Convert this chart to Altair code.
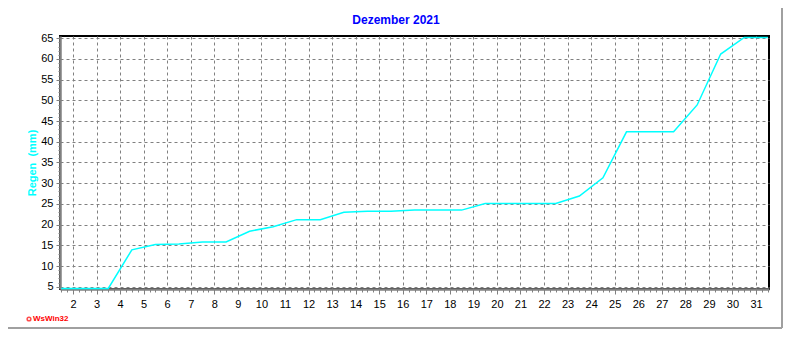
import altair as alt
import pandas as pd

# Cumulative rain (mm), vertices at day boundaries
days = [1.5, 2.5, 3.5, 4.5, 5.5, 6.5, 7.5, 8.5, 9.5, 10.5, 11.5, 12.5, 13.5, 14.5, 15.5,
        16.5, 17.5, 18.5, 19.5, 20.5, 21.5, 22.5, 23.5, 24.5, 25.5, 26.5, 27.5, 28.5,
        29.5, 30.5, 31.5]
rain = [4.6, 4.6, 4.6, 13.9, 15.2, 15.3, 15.8, 15.8, 18.4, 19.5, 21.2, 21.2, 23.0, 23.2, 23.2,
        23.5, 23.5, 23.5, 25.1, 25.1, 25.1, 25.1, 26.9, 31.3, 42.4, 42.4, 42.4, 48.9,
        61.2, 65.2, 65.2]

x_major = list(range(2, 32))
y_major = list(range(5, 70, 5))
x_minor = [1.5 + 0.25 * i for i in range(121)]
y_minor = list(range(5, 66))

title_text = "Dezember 2021"
y_title = "Regen\u00a0 (mm)"
logo_text = "WsWin32"

df = pd.DataFrame({"day": days, "rain": rain})

W, H = 709, 253
FONT = "Liberation Sans"

xscale = alt.Scale(domain=[1.45, 31.55], nice=False, zero=False)
yscale = alt.Scale(domain=[4.45, 65.55], nice=False, zero=False)

minor = alt.Chart(df).mark_line(opacity=0).encode(
    x=alt.X("day:Q", scale=xscale,
            axis=alt.Axis(values=x_minor, labels=False, grid=False, domain=False,
                          tickSize=3, tickColor="#808080", orient="bottom", title=None)),
    y=alt.Y("rain:Q", scale=yscale,
            axis=alt.Axis(values=y_minor, labels=False, grid=False, domain=False,
                          tickSize=2, tickColor="#808080", orient="left", title=None)),
)

main = alt.Chart(df).mark_line(color="#00FFFF", strokeWidth=1.5).encode(
    x=alt.X("day:Q", scale=xscale,
            axis=alt.Axis(values=x_major, grid=True, gridColor="#808080", gridDash=[3, 3],
                          gridWidth=1, domain=True, domainColor="#808080", domainWidth=2.5,
                          tickSize=5, tickColor="#808080", labelColor="black",
                          labelFont=FONT, labelFontSize=11, labelPadding=4,
                          orient="bottom", title=None, labelFlush=False)),
    y=alt.Y("rain:Q", scale=yscale,
            axis=alt.Axis(values=y_major, grid=True, gridColor="#808080", gridDash=[3, 3],
                          gridWidth=1, domain=True, domainColor="#808080", domainWidth=2.5,
                          tickSize=4, tickColor="#808080", labelColor="black",
                          labelFont=FONT, labelFontSize=11, labelPadding=3,
                          orient="left", title=y_title, titleColor="#00FFFF",
                          titleFont=FONT, titleFontSize=11, titleFontWeight="bold",
                          titleAngle=-90, titleX=-28, titleY=H / 2,
                          titleAlign="center", titleBaseline="middle", labelFlush=False)),
)

one = pd.DataFrame({"a": [0]})
frame_r = alt.Chart(one).mark_rule(color="#a0a0a0", strokeWidth=2).encode(
    x=alt.value(722), y=alt.value(-28), y2=alt.value(292))
frame_b = alt.Chart(one).mark_rule(color="#a0a0a0", strokeWidth=2).encode(
    x=alt.value(-52), x2=alt.value(722), y=alt.value(292))
logo_dot = alt.Chart(one).mark_point(color="red", filled=False, size=14, strokeWidth=1.5).encode(
    x=alt.value(-31), y=alt.value(283))
logo = alt.Chart(one).mark_text(color="red", font=FONT, fontSize=8, fontWeight="bold",
                                align="left", baseline="middle", text=logo_text).encode(
    x=alt.value(-27), y=alt.value(283))
title = alt.Chart(one).mark_text(color="#0000FF", font=FONT, fontSize=12, fontWeight="bold",
                                 align="center", baseline="middle", text=title_text).encode(
    x=alt.value(336), y=alt.value(-16))

chart = alt.layer(minor, main, frame_r, frame_b, logo_dot, logo, title).resolve_axis(
    x="independent", y="independent"
).properties(
    width=W, height=H,
    padding={"left": 52, "top": 28, "right": 15, "bottom": 40},
    autosize=alt.AutoSizeParams(type="none"),
    background="white",
).configure_view(stroke="black", strokeWidth=2)

chart.save("out.html", embed_options={"renderer": "svg", "actions": False})
